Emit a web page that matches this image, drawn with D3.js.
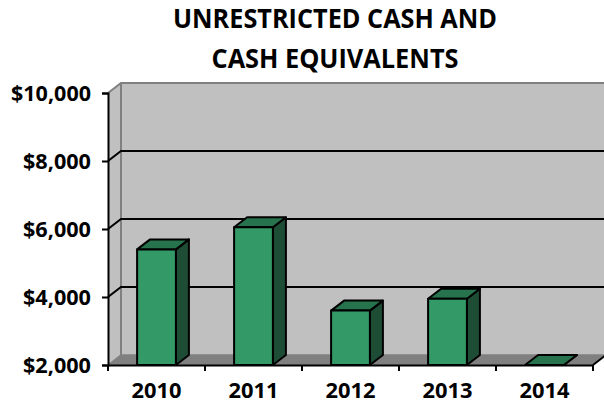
<!DOCTYPE html>
<html>
<head>
<meta charset="utf-8">
<script src="https://cdn.jsdelivr.net/npm/d3@7"></script>
<style>
  body { margin: 0; background: #fff; }
  text { font-family: "Open Sans", sans-serif; font-weight: bold; fill: #000; }
</style>
</head>
<body>
<div id="chart"></div>
<script>
var width = 604,
    height = 405;

var years = ["2010", "2011", "2012", "2013", "2014"];
var values = [5400, 6050, 3600, 3950, 2000];
var yTicks = [2000, 4000, 6000, 8000, 10000];
var titleLines = ["UNRESTRICTED CASH AND", "CASH EQUIVALENTS"];

// 3d depth offset
var dx = 13, dy = -10;

var svg = d3.select("#chart")
    .append("svg")
    .attr("width", width)
    .attr("height", height);

var x = d3.scaleBand()
    .domain(years)
    .range([108, 593]);

var y = d3.scaleLinear()
    .domain([2000, 10000])
    .range([365, 93]);

var x0 = x.range()[0], x1 = x.range()[1],
    yb = y(2000), yt = y(10000);

// walls
svg.append("polygon")
    .attr("points", [[x0, yb], [x0, yt], [x0 + dx, yt + dy], [x0 + dx, yb + dy]].join(" "))
    .attr("fill", "#c0c0c0");
svg.append("rect")
    .attr("x", x0 + dx).attr("y", yt + dy)
    .attr("width", x1 - x0 + 5).attr("height", yb - yt)
    .attr("fill", "#c0c0c0");
svg.append("polygon")
    .attr("points", [[x0, yb], [x1, yb], [x1 + dx, yb + dy], [x0 + dx, yb + dy]].join(" "))
    .attr("fill", "#808080");

// wall edges
var edge = svg.append("g").attr("fill", "none").attr("stroke", "#808080").attr("stroke-width", 2);
edge.append("polyline").attr("points", [[x0, yt], [x0 + dx, yt + dy], [x1 + dx + 5, yt + dy]].join(" "));
edge.append("line").attr("x1", x0 + dx).attr("x2", x0 + dx).attr("y1", yt + dy).attr("y2", yb + dy);
edge.append("polyline").attr("points", [[x0, yb], [x0 + dx, yb + dy], [x1 + dx + 5, yb + dy]].join(" "))
    .attr("stroke-width", 1.5);

// gridlines
svg.append("g")
    .selectAll("polyline")
    .data(yTicks.filter(function(d){ return d > 2000 && d < 10000; }))
    .enter()
    .append("polyline")
    .attr("fill", "none")
    .attr("stroke", "#000")
    .attr("stroke-width", 2)
    .attr("points", function(d){
        return [[x0, y(d)], [x0 + dx, y(d) + dy], [x1 + dx + 5, y(d) + dy]].join(" ");
    });

// bars
var bw = x.bandwidth() * 0.4;
var bars = svg.append("g")
    .selectAll("g")
    .data(years.map(function(d, i){ return {year: d, value: values[i]}; }))
    .enter()
    .append("g")
    .attr("stroke", "#000")
    .attr("stroke-width", 2)
    .attr("stroke-linejoin", "round");

function bx(d){ return x(d.year) + (x.bandwidth() - bw) / 2; }

bars.append("polygon")
    .attr("fill", "#1e4d36")
    .attr("points", function(d){
        var l = bx(d) + bw, t = y(d.value);
        return [[l, t], [l + dx, t + dy], [l + dx, yb + dy], [l, yb]].join(" ");
    });
bars.append("polygon")
    .attr("fill", "#26734d")
    .attr("points", function(d){
        var l = bx(d), t = y(d.value);
        return [[l, t], [l + dx, t + dy], [l + bw + dx, t + dy], [l + bw, t]].join(" ");
    });
bars.filter(function(d){ return y(d.value) < yb; })
    .append("rect")
    .attr("fill", "#339966")
    .attr("x", bx)
    .attr("y", function(d){ return y(d.value); })
    .attr("width", bw)
    .attr("height", function(d){ return yb - y(d.value); });

// floor right edge
svg.append("line")
    .attr("x1", x1).attr("y1", yb).attr("x2", x1 + dx).attr("y2", yb + dy)
    .attr("stroke", "#000").attr("stroke-width", 2);

// y axis
var yAxis = svg.append("g")
    .attr("transform", "translate(" + x0 + ",0)")
    .call(d3.axisLeft(y).tickValues(yTicks).tickSize(6).tickPadding(11)
        .tickFormat(function(d){ return "$" + d3.format(",")(d); }));
yAxis.select(".domain").attr("stroke", "#000").attr("stroke-width", 2);
yAxis.selectAll(".tick line").attr("stroke", "#000").attr("stroke-width", 2);
yAxis.selectAll("text")
    .style("font-size", "21.5px")
    .attr("dy", "0.36em")
    .attr("textLength", function(d){ return d >= 10000 ? 80 : 68; })
    .attr("lengthAdjust", "spacingAndGlyphs");

// x axis
var xAxis = svg.append("g")
    .attr("transform", "translate(0," + yb + ")")
    .call(d3.axisBottom(x).tickSize(0).tickPadding(20));
xAxis.select(".domain").attr("stroke", "#000").attr("stroke-width", 2);
xAxis.selectAll("text")
    .style("font-size", "21px")
    .attr("dy", "0.6em")
    .attr("textLength", 50)
    .attr("lengthAdjust", "spacingAndGlyphs");
xAxis.selectAll(".bound")
    .data(years.map(function(d){ return x(d); }).concat([x1]))
    .enter()
    .append("line")
    .attr("class", "bound")
    .attr("x1", function(d){ return d; }).attr("x2", function(d){ return d; })
    .attr("y1", 0).attr("y2", 6)
    .attr("stroke", "#000").attr("stroke-width", 2);

// title
var titleWidths = [324, 247];
svg.append("g")
    .selectAll("text")
    .data(titleLines)
    .enter()
    .append("text")
    .attr("x", 335)
    .attr("y", function(d, i){ return 28 + i * 40; })
    .attr("text-anchor", "middle")
    .style("font-size", "26px")
    .attr("textLength", function(d, i){ return titleWidths[i]; })
    .attr("lengthAdjust", "spacingAndGlyphs")
    .text(function(d){ return d; });
</script>
</body>
</html>
